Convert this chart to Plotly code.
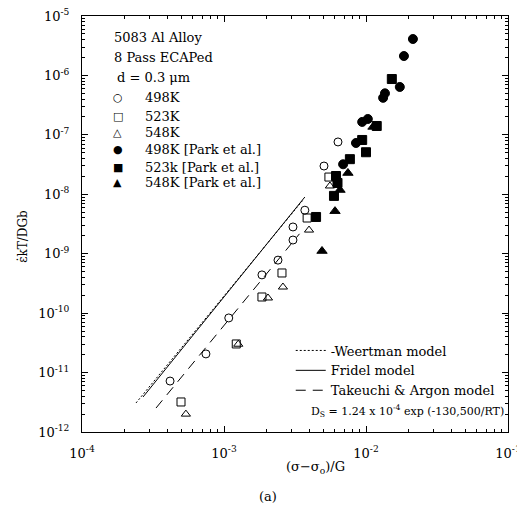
import plotly.graph_objects as go

# ---- data ----
x_498 = [4.17e-4, 7.46e-4, 1.08e-3, 1.85e-3, 2.40e-3, 3.06e-3, 3.06e-3, 3.71e-3, 5.06e-3, 6.35e-3]
y_498 = [7.2e-12, 2.06e-11, 8.3e-11, 4.4e-10, 7.8e-10, 1.70e-9, 2.82e-9, 5.4e-9, 2.99e-8, 7.6e-8]

x_523 = [4.98e-4, 1.22e-3, 1.85e-3, 2.56e-3, 3.85e-3, 5.48e-3]
y_523 = [3.2e-12, 3.03e-11, 1.87e-10, 4.74e-10, 3.99e-9, 1.95e-8]

x_548 = [5.39e-4, 1.26e-3, 2.04e-3, 2.60e-3, 3.97e-3, 5.57e-3]
y_548 = [2.0e-12, 3.0e-11, 1.8e-10, 2.75e-10, 2.5e-9, 1.38e-8]

x_498p = [2.14e-2, 1.85e-2, 1.73e-2, 1.32e-2, 1.36e-2, 1.03e-2, 9.4e-3, 8.5e-3, 6.9e-3]
y_498p = [4.1e-6, 2.12e-6, 6.4e-7, 4.2e-7, 5.0e-7, 1.85e-7, 1.65e-7, 7.3e-8, 3.2e-8]

x_523p = [1.52e-2, 1.19e-2, 9.4e-3, 1.0e-2, 7.7e-3, 6.15e-3, 6.3e-3, 5.95e-3, 4.45e-3]
y_523p = [8.7e-7, 1.41e-7, 8.2e-8, 5.1e-8, 3.9e-8, 2.03e-8, 1.55e-8, 9.4e-9, 4.15e-9]

x_548p = [1.12e-2, 7.46e-3, 6.56e-3, 6.05e-3, 4.9e-3]
y_548p = [1.36e-7, 2.28e-8, 1.18e-8, 5.2e-9, 1.11e-9]

# model lines (end points)
x_weertman = [2.40e-4, 3.6e-3]
y_weertman = [3.08e-12, 8.0e-9]
x_fridel = [2.69e-4, 3.71e-3]
y_fridel = [3.88e-12, 9.0e-9]
x_takeuchi = [3.32e-4, 3.4e-3]
y_takeuchi = [2.53e-12, 2.16e-9]

series_names = ["498K", "523K", "548K", "498K [Park et al.]", "523k [Park et al.]", "548K [Park et al.]"]
series_glyphs = ["○", "□", "△", "●", "■", "▲"]
line_names = ["-Weertman model", "Fridel model", "Takeuchi & Argon model"]

x_tickvals = [1e-4, 1e-3, 1e-2, 1e-1]
x_ticktext = ["10<sup>-4</sup>", "10<sup>-3</sup>", "10<sup>-2</sup>", "10<sup>-1</sup>"]
y_tickvals = [1e-12, 1e-11, 1e-10, 1e-9, 1e-8, 1e-7, 1e-6, 1e-5]
y_ticktext = ["10<sup>-12</sup>", "10<sup>-11</sup>", "10<sup>-10</sup>", "10<sup>-9</sup>",
              "10<sup>-8</sup>", "10<sup>-7</sup>", "10<sup>-6</sup>", "10<sup>-5</sup>"]

FONT = "DejaVu Serif, serif"

fig = go.Figure()

def add_pts(x, y, sym, name, size):
    fig.add_trace(go.Scatter(
        x=x, y=y, mode="markers", name=name, showlegend=False,
        marker=dict(symbol=sym, size=size, color="black",
                    line=dict(color="black", width=1))))

add_pts(x_498, y_498, "circle-open", series_names[0], 8)
add_pts(x_523, y_523, "square-open", series_names[1], 8)
add_pts(x_548, y_548, "triangle-up-open", series_names[2], 8)
add_pts(x_498p, y_498p, "circle", series_names[3], 9)
add_pts(x_523p, y_523p, "square", series_names[4], 9)
add_pts(x_548p, y_548p, "triangle-up", series_names[5], 9)

fig.add_trace(go.Scatter(x=x_weertman, y=y_weertman, mode="lines", name=line_names[0],
                         legend="legend2", line=dict(color="black", width=1, dash="2px,2px")))
fig.add_trace(go.Scatter(x=x_fridel, y=y_fridel, mode="lines", name=line_names[1],
                         legend="legend2", line=dict(color="black", width=1)))
fig.add_trace(go.Scatter(x=x_takeuchi, y=y_takeuchi, mode="lines", name=line_names[2],
                         legend="legend2", line=dict(color="black", width=1, dash="10px,7px")))

def minor_vals(lo, hi):
    vals = []
    for e in range(lo, hi):
        for m in range(2, 10):
            vals.append(m * 10.0 ** e)
    return vals

axis_common = dict(
    type="log", showline=True, linecolor="black", linewidth=1, mirror="ticks",
    ticks="inside", ticklen=6, tickcolor="black", tickwidth=1, showgrid=False,
    zeroline=False, tickmode="array", automargin=False, ticklabeloverflow="allow",
    tickfont=dict(family=FONT, size=13, color="black"),
)

fig.update_xaxes(**axis_common, range=[-4, -1], tickvals=x_tickvals, ticktext=x_ticktext,
                 minor=dict(tickmode="array", tickvals=minor_vals(-4, -1), ticks="inside",
                            ticklen=3, tickcolor="black", showgrid=False),
                 ticklabelstandoff=9)
fig.update_yaxes(**axis_common, range=[-12, -5], tickvals=y_tickvals, ticktext=y_ticktext,
                 minor=dict(tickmode="array", tickvals=minor_vals(-12, -5), ticks="inside",
                            ticklen=3, tickcolor="black", showgrid=False),
                 ticklabelstandoff=9)

ann_font = dict(family=FONT, size=13, color="black")
annotations = [
    dict(text="5083 Al Alloy", x=0.070, y=0.9495, xanchor="left", yanchor="middle"),
    dict(text="8 Pass ECAPed", x=0.070, y=0.9014, xanchor="left", yanchor="middle"),
    dict(text="d = 0.3 μm", x=0.0775, y=0.851, xanchor="left", yanchor="middle"),
    dict(text="D<sub>S</sub> = 1.24 x 10<sup>-4</sup> exp (-130,500/RT)", x=0.532, y=0.05,
         xanchor="left", yanchor="middle", font=dict(family=FONT, size=11, color="black")),
    dict(text="(σ−σ<sub>o</sub>)/G", x=0.547, y=-0.0865, xanchor="center", yanchor="middle"),
    dict(text="(a)", x=0.437, y=-0.156, xanchor="center", yanchor="middle"),
    dict(text="ε̇kT/DGb", x=-0.138, y=0.47, xanchor="center", yanchor="middle", textangle=-90,
         font=dict(family=FONT, size=12, color="black")),
]
# legend of the marker series, written as text rows
row_y = [0.8029, 0.7596, 0.7188, 0.6779, 0.6370, 0.5986]
for g, n, yy in zip(series_glyphs, series_names, row_y):
    annotations.append(dict(text=g, x=0.0845, y=yy, xanchor="center", yanchor="middle",
                            font=dict(family="DejaVu Sans", size=11, color="black")))
    annotations.append(dict(text=n, x=0.1432, y=yy, xanchor="left", yanchor="middle"))

for a in annotations:
    a.setdefault("font", ann_font)
    a.update(xref="paper", yref="paper", showarrow=False)

# the page body adds an 8px margin, so the figure is sized to fit inside the window
fig.update_layout(
    width=517, height=505,
    margin=dict(l=74, r=17, t=8, b=81, autoexpand=False),
    paper_bgcolor="white", plot_bgcolor="white",
    font=dict(family=FONT, size=13, color="black"),
    annotations=annotations,
    legend2=dict(x=0.49, y=0.232, xanchor="left", yanchor="top", bgcolor="rgba(0,0,0,0)",
                 font=dict(family=FONT, size=13, color="black"), itemwidth=30),
    showlegend=True,
)

fig.write_html("out.html")
